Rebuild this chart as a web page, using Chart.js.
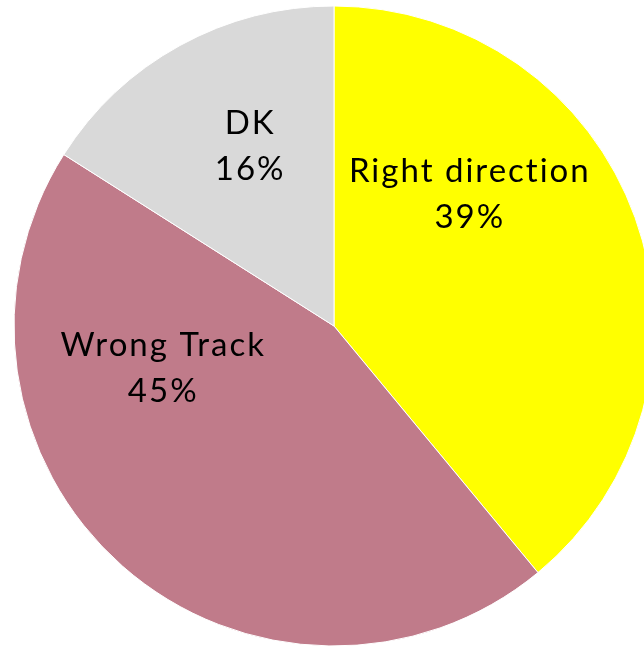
<!DOCTYPE html>
<html>
<head>
<meta charset="utf-8">
<script src="https://cdn.jsdelivr.net/npm/chart.js@4/dist/chart.umd.min.js"></script>
<style>
	html, body { margin: 0; padding: 0; background: #fff; overflow: hidden; }
	#wrap { position: absolute; left: 0; top: 0; width: 668px; height: 652px; }
</style>
</head>
<body>
<div id="wrap"><canvas id="miGrafico"></canvas></div>
<script>
const categories = ["Right direction", "Wrong Track", "DK"];
const shares = [39, 45, 16];
const colores = ["#FFFF00", "#C07B8A", "#D9D9D9"];

// where each label sits: angle clockwise from top (deg), fraction of radius
const labelSpots = [
	[46, 0.59],
	[256, 0.55],
	[335, 0.62],
];

const labelPlugin = {
	id: "pieLabels",
	afterDatasetsDraw(chart) {
		const ctx = chart.ctx;
		const meta = chart.getDatasetMeta(0);
		ctx.save();
		ctx.fillStyle = "#000";
		ctx.font = "33px Lato";
		ctx.letterSpacing = "2px";
		ctx.textAlign = "center";
		ctx.textBaseline = "middle";
		meta.data.forEach((arc, i) => {
			const a = labelSpots[i][0] * Math.PI / 180;
			const r = arc.outerRadius * labelSpots[i][1];
			const x = arc.x + Math.sin(a) * r;
			const y = arc.y - Math.cos(a) * r;
			ctx.fillText(categories[i], x, y - 23);
			ctx.fillText(shares[i] + "%", x, y + 23);
		});
		ctx.restore();
	},
};

function initGrafico() {
	const ctx = document.getElementById("miGrafico");
	new Chart(ctx, {
		type: "pie",
		data: {
			labels: categories,
			datasets: [
				{
					data: shares,
					backgroundColor: colores,
					borderColor: "#fff",
					borderWidth: 1,
				},
			],
		},
		options: {
			responsive: true,
			maintainAspectRatio: false,
			animation: false,
			radius: 320,
			plugins: {
				legend: { display: false },
				tooltip: { enabled: false },
			},
		},
		plugins: [labelPlugin],
	});
}

initGrafico();
</script>
</body>
</html>
